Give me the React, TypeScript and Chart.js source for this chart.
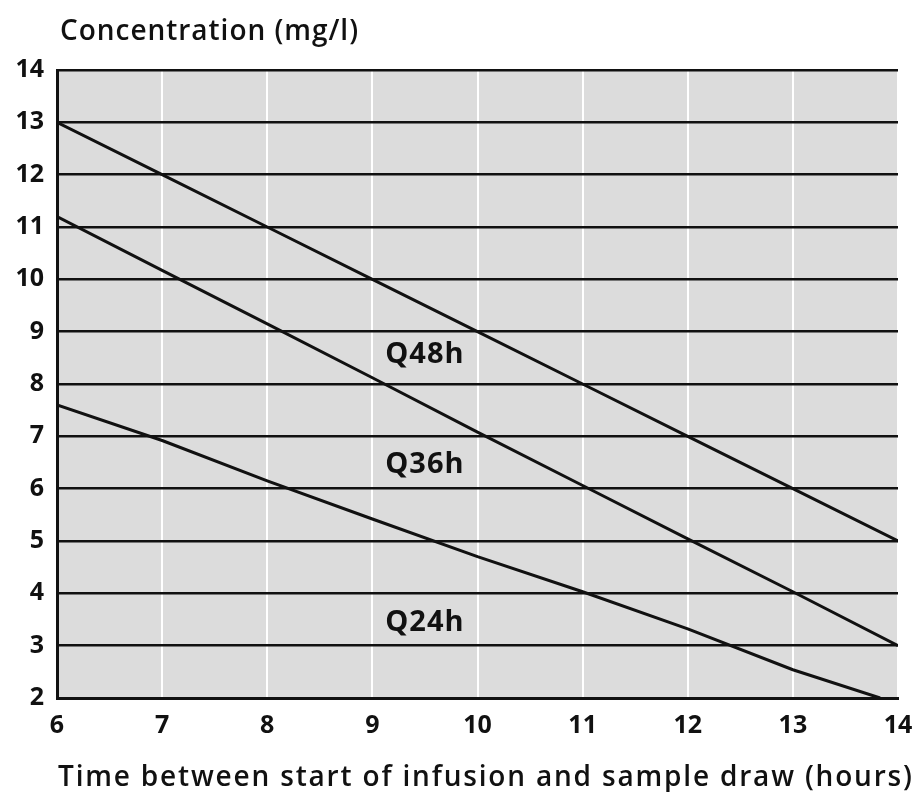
import React, { useEffect, useRef } from "react";
import { Chart, registerables } from "chart.js";

Chart.register(...registerables);

const hoursQ48 = [6, 7, 8, 9, 10, 11, 12, 13, 14];
const concQ48 = [13, 12, 11, 10, 9, 8, 7, 6, 5];
const hoursQ36 = [6, 7, 8, 9, 10, 11, 12, 13, 14];
const concQ36 = [11.2, 10.17, 9.15, 8.12, 7.08, 6.06, 5.04, 4.03, 3];
const hoursQ24 = [6, 7, 8, 9, 10, 11, 12, 13, 13.83];
const concQ24 = [7.6, 6.92, 6.15, 5.42, 4.7, 4.03, 3.32, 2.54, 2];

const seriesLabels = ["Q48h", "Q36h", "Q24h"];
const labelX = [9.5, 9.5, 9.5];
const labelY = [8.55, 6.45, 3.43];

const xTicks = [6, 7, 8, 9, 10, 11, 12, 13, 14];
const yTicks = [2, 3, 4, 5, 6, 7, 8, 9, 10, 11, 12, 13, 14];

const yTitle = "Concentration (mg/l)";
const xTitle = "Time between start of infusion and sample draw (hours)";

const FONT = "'Open Sans', 'DejaVu Sans', sans-serif";

const toPts = (xs: number[], ys: number[]) => xs.map((x, i) => ({ x, y: ys[i] }));

export default function App() {
  const ref = useRef<HTMLCanvasElement | null>(null);
  useEffect(() => {
    if (!ref.current) return;
    const fitText = (ctx: any, text: string, x: number, y: number, w: number) => {
      const base = ctx.measureText(text).width;
      const sp = (w - base) / Math.max(1, text.length - 1);
      ctx.letterSpacing = `${sp.toFixed(2)}px`;
      ctx.fillText(text, x, y);
      ctx.letterSpacing = "0px";
    };
    const bgPlugin = {
      id: "bg",
      beforeDraw(chart: any) {
        const { ctx, chartArea: a } = chart;
        ctx.save();
        ctx.fillStyle = "#dcdcdc";
        ctx.fillRect(a.left, a.top, a.right - a.left, a.bottom - a.top);
        ctx.restore();
      },
      afterDraw(chart: any) {
        const { ctx, scales } = chart;
        ctx.save();
        ctx.fillStyle = "#111";
        ctx.textBaseline = "alphabetic";
        ctx.textAlign = "left";
        ctx.font = `600 28px ${FONT}`;
        fitText(ctx, yTitle, 60, 40, 298);
        ctx.font = `600 28px ${FONT}`;
        fitText(ctx, xTitle, 58, 786, 854);
        ctx.textAlign = "center";
        ctx.textBaseline = "middle";
        ctx.font = `bold 29px ${FONT}`;
        seriesLabels.forEach((t, i) => {
          ctx.letterSpacing = "1px";
          ctx.fillText(t, scales.x.getPixelForValue(labelX[i]), scales.y.getPixelForValue(labelY[i]));
        });
        ctx.restore();
      },
    };
    const lineDs = (label: string, data: any[]) => ({
      label,
      data,
      borderColor: "#111",
      borderWidth: 3,
      pointRadius: 0,
      tension: 0,
      borderJoinStyle: "round",
      fill: false,
    });
    const chart = new Chart(ref.current, {
      type: "line",
      data: {
        datasets: [
          lineDs("Q48h", toPts(hoursQ48, concQ48)),
          lineDs("Q36h", toPts(hoursQ36, concQ36)),
          lineDs("Q24h", toPts(hoursQ24, concQ24)),
        ],
      },
      options: {
        animation: false,
        responsive: true,
        maintainAspectRatio: false,
        layout: { padding: { top: 70, right: 19, left: 0, bottom: 0 } },
        plugins: { legend: { display: false }, tooltip: { enabled: false }, title: { display: false } },
        scales: {
          x: {
            type: "linear",
            min: 6,
            max: 14,
            afterFit: (s: any) => { s.height = 94; s.paddingRight = 0; s.paddingLeft = 0; },
            afterBuildTicks: (s: any) => { s.ticks = xTicks.map((v) => ({ value: v })); },
            grid: { color: "#ffffff", lineWidth: 2, drawTicks: false },
            border: { display: true, color: "#111", width: 3 },
            ticks: { color: "#111", padding: 13, font: { family: FONT, size: 25, weight: "bold" } },
          },
          y: {
            type: "linear",
            min: 2,
            max: 14,
            afterFit: (s: any) => { s.width = 57; s.paddingTop = 0; s.paddingBottom = 0; },
            afterBuildTicks: (s: any) => { s.ticks = yTicks.map((v) => ({ value: v })); },
            grid: { color: "#111", lineWidth: 2.5, drawTicks: false },
            border: { display: true, color: "#111", width: 3 },
            ticks: { color: "#111", padding: 13, font: { family: FONT, size: 25, weight: "bold" } },
          },
        },
      },
      plugins: [bgPlugin],
    } as any);
    return () => chart.destroy();
  }, []);
  return (
    <div style={{ position: "absolute", left: 0, top: 0, width: 917, height: 792, background: "#fff" }}>
      <canvas ref={ref} />
    </div>
  );
}
